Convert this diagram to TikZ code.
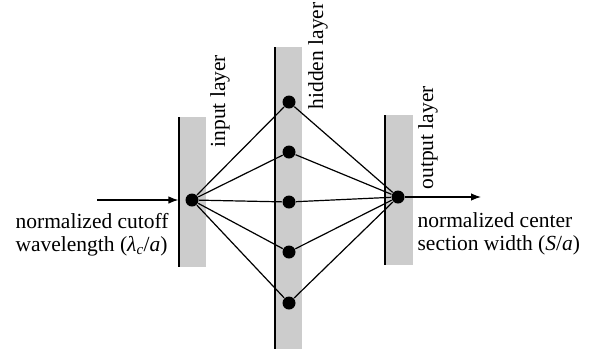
\documentclass[tikz,border=0pt]{standalone}
\usepackage{fontspec}
\setmainfont{Liberation Serif}
\usetikzlibrary{arrows.meta}

\begin{document}
\begin{tikzpicture}[x=1pt, y=-1pt, line width=1.2pt,
        every node/.append style={font=\fontsize{21.5}{23}\selectfont, inner sep=0pt}]
  \tikzstyle{unit} = [circle, fill=black, minimum size=13pt]
  \tikzstyle{bar} = [line width=2.2pt]
  \tikzstyle{caption} = [rotate=90, anchor=west]
  \tikzstyle{quantity} = [anchor=north west, align=left]
  \useasboundingbox (0,0) rectangle (592,349);
  % the three layers: gray band with a black edge on the left
  \fill[black!20] (179,117) rectangle (206,267);
  \fill[black!20] (275,47) rectangle (302,349);
  \fill[black!20] (385,115) rectangle (413,265);
  \draw[bar] (179,117) -- (179,267);
  \draw[bar] (275,47) -- (275,349);
  \draw[bar] (385,115) -- (385,265);
  \node (inlayer) [caption] at (220,148) {input layer};
  \node (hidlayer) [caption] at (318,110) {hidden layer};
  \node (outlayer) [caption] at (428,190) {output layer};
  % units
  \node (in) [unit] at (192,200) {};
  \foreach \y [count=\i] in {102,152,202,252,303}
    \node (h\i) [unit] at (289,\y) {};
  \node (out) [unit] at (398,197) {};
  \foreach \i in {1,...,5}
    \draw (in) -- (h\i) -- (out);
  % input and output quantities
  \coordinate (src) at (97,200);
  \coordinate (dst) at (481,197);
  \draw[-{Latex[length=10pt,width=7.5pt]}, shorten >=6.5pt] (src) -- (in);
  \draw[-{Latex[length=10pt,width=7.5pt]}] (out) -- (dst);
  \node (xin) [quantity] at (15,213) {normalized cutoff\\wavelength (\textit{λ}\textsubscript{\textit{c}}/\textit{a})};
  \node (yout) [quantity] at (417,212) {normalized center\\section width (\textit{S}/\textit{a})};
\end{tikzpicture}
\end{document}
